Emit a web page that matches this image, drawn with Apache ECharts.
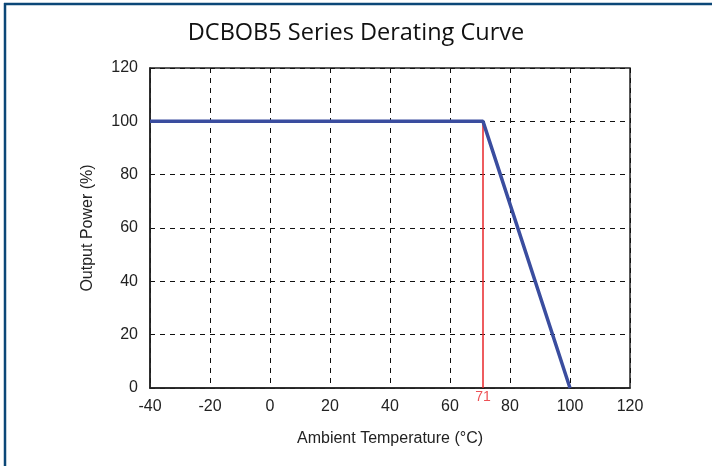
<!DOCTYPE html>
<html>
<head>
<meta charset="utf-8">
<script src="https://cdn.jsdelivr.net/npm/echarts@6/dist/echarts.min.js"></script>
<style>
html,body{margin:0;padding:0;background:#fff;}
#c{width:712px;height:466px;}
</style>
</head>
<body>
<div id="c"></div>
<script>
var titleText = 'DCBOB5 Series Derating Curve';
var xName = 'Ambient Temperature (°C)';
var yName = 'Output Power (%)';
var curveX = [-40, 71, 100];
var curveY = [100, 100, 0];
var markerX = [71, 71];
var markerY = [0, 100];
var markerLabel = '71';

var chart = echarts.init(document.getElementById('c'));
chart.setOption({
  animation: false,
  backgroundColor: '#fff',
  title: {
    text: titleText, left: 'center', top: 16,
    textStyle: {fontFamily: 'Open Sans', fontSize: 23.5, fontWeight: 'normal', color: '#111'}
  },
  graphic: [
    {type: 'line', shape: {x1: 4, y1: 4, x2: 712, y2: 4}, style: {stroke: '#0b4777', lineWidth: 2.5}},
    {type: 'line', shape: {x1: 5, y1: 3, x2: 5, y2: 466}, style: {stroke: '#0b4777', lineWidth: 2.5}}
  ],
  grid: {left: 150, right: 82, top: 68, bottom: 78, show: true, borderColor: '#222', borderWidth: 1.5, backgroundColor: 'transparent'},
  xAxis: {
    type: 'value', min: -40, max: 120, interval: 20,
    name: xName, nameLocation: 'middle', nameGap: 43,
    nameTextStyle: {fontFamily: 'Liberation Sans', fontSize: 16, color: '#222'},
    axisLine: {onZero: false, lineStyle: {color: '#222', width: 1.5}},
    axisTick: {show: false},
    axisLabel: {fontFamily: 'Liberation Sans', fontSize: 16, color: '#222', margin: 11},
    splitLine: {show: true, lineStyle: {color: '#111', type: [5, 5], width: 1}}
  },
  yAxis: {
    type: 'value', min: 0, max: 120, interval: 20,
    name: yName, nameLocation: 'middle', nameGap: 54,
    nameTextStyle: {fontFamily: 'Liberation Sans', fontSize: 16, color: '#222'},
    axisLine: {show: true, onZero: false, lineStyle: {color: '#222', width: 1.5}},
    axisTick: {show: false},
    axisLabel: {fontFamily: 'Liberation Sans', fontSize: 16, color: '#222', margin: 12},
    splitLine: {show: true, lineStyle: {color: '#111', type: [5, 5], width: 1}}
  },
  series: [
    {
      type: 'line', symbol: 'none', silent: true, z: 3,
      data: markerX.map(function (x, i) { return [x, markerY[i]]; }),
      lineStyle: {color: '#e8262a', width: 1.5}
    },
    {
      type: 'line', symbol: 'none', silent: true, z: 4,
      data: curveX.map(function (x, i) { return [x, curveY[i]]; }),
      lineStyle: {color: '#3a4d9f', width: 3.5}
    },
    {
      type: 'scatter', symbolSize: 0, silent: true, z: 5,
      data: [[markerX[0], markerY[0]]],
      label: {show: true, position: 'bottom', distance: 2, formatter: markerLabel,
        fontFamily: 'Liberation Sans', fontSize: 14, color: '#e8262a'}
    }
  ]
});
</script>
</body>
</html>
